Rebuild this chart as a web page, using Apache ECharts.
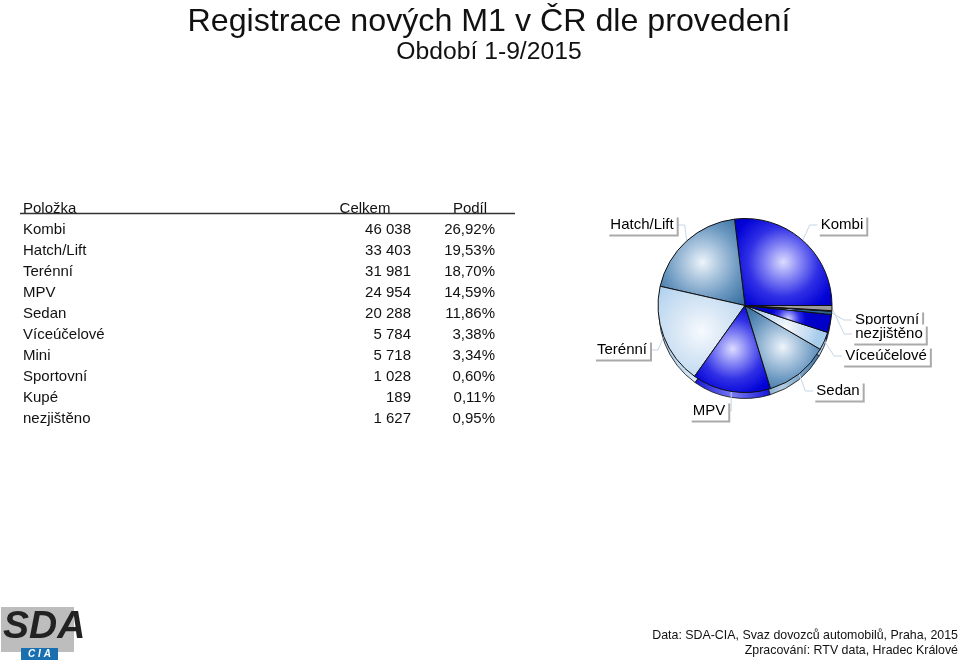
<!DOCTYPE html>
<html><head><meta charset="utf-8">
<style>html,body{margin:0;padding:0;background:#fff}#c{width:960px;height:666px}</style>
<script src="https://cdn.jsdelivr.net/npm/echarts@6/dist/echarts.min.js"></script>
</head><body><div id="c"></div>
<script>
const headers = ['Položka','Celkem','Podíl'];
const categories = ['Kombi','Hatch/Lift','Terénní','MPV','Sedan','Víceúčelové','Mini','Sportovní','Kupé','nezjištěno'];
const totals = [46038,33403,31981,24954,20288,5784,5718,1028,189,1627];
const shares = ['26,92%','19,53%','18,70%','14,59%','11,86%','3,38%','3,34%','0,60%','0,11%','0,95%'];
const titleText = 'Registrace nových M1 v ČR dle provedení';
const subtitleText = 'Období 1-9/2015';
const footerLines = ['Data: SDA-CIA, Svaz dovozců automobilů, Praha, 2015','Zpracování: RTV data, Hradec Králové'];
const hiddenLabels = ['Mini','Kupé'];

const F='"Liberation Sans",Arial,sans-serif';
const fmt=n=>String(n).replace(/\B(?=(\d{3})+$)/g,' ');
const blue={s:[[0,'#dcdcff'],[.25,'#8c8cf6'],[.55,'#3030e6'],[.85,'#0404d8'],[1,'#0000c8']],e:'#1414d8',m:'#7a7af4'};
const steel={s:[[0,'#eef4fa'],[.25,'#b4cce2'],[.6,'#6a97c0'],[1,'#2c6698']],e:'#3f78aa',m:'#b4cce2'};
const light={s:[[0,'#f6fafe'],[.35,'#dce9f6'],[.75,'#c0daf1'],[1,'#a8cdec']],e:'#a4c8e8',m:'#e0edf8'};
const gray={s:[[0,'#b8b8b8'],[1,'#9c9c9c']],e:'#888',m:'#aaa'};
const palette=[blue,steel,light,blue,steel,light,blue,steel,light,gray];
const grad=c=>({type:'radial',x:.5,y:.5,r:.72,colorStops:c.s.map(([offset,color])=>({offset,color}))});
const sideGrad=c=>({type:'linear',x:0,y:0,x2:1,y2:0,colorStops:[{offset:0,color:c.e},{offset:.5,color:c.m},{offset:1,color:c.e}]});

const labelSpots={ 'Kombi':[842,225],'Hatch/Lift':[642,225],'Terénní':[622,350],'MPV':[709,411],'Sedan':[838,391],
  'Víceúčelové':[886,356],'Sportovní':[887,320],'nezjištěno':[889,334] };

const topData=categories.map((n,i)=>({name:n,value:totals[i],itemStyle:{color:grad(palette[i])},
  label:{show:!hiddenLabels.includes(n)},labelLine:{show:!hiddenLabels.includes(n)}}));
const backData=categories.map((n,i)=>({name:n,value:totals[i],itemStyle:{color:sideGrad(palette[i])}}));

const graphic=[];
const T=(x,y,text,opts={})=>graphic.push({type:'text',x,y,silent:true,style:Object.assign({text,fill:'#111',font:'15px '+F,textVerticalAlign:'middle'},opts)});
T(23,209,headers[0]);
T(365,209,headers[1],{textAlign:'center'});
T(470,209,headers[2],{textAlign:'center'});
graphic.push({type:'line',silent:true,shape:{x1:20,y1:213.5,x2:515,y2:213.5},style:{stroke:'#333',lineWidth:1.3}});
categories.forEach((n,i)=>{
  const y=230+i*21;
  T(23,y,n);
  T(411,y,fmt(totals[i]),{textAlign:'right'});
  T(495,y,shares[i],{textAlign:'right'});
});
footerLines.forEach((l,i)=>T(958,636+i*15,l,{textAlign:'right',font:'12.4px '+F}));
graphic.push({type:'rect',silent:true,shape:{x:1,y:607,width:73,height:45},style:{fill:'#bdbdbd'}});
T(3,627,'SDA',{font:'italic bold 39px '+F,fill:'#222'});
graphic.push({type:'rect',silent:true,shape:{x:21,y:648,width:37,height:12},style:{fill:'#1a6fb0'}});
T(39.5,654,'C I A',{font:'italic bold 10px '+F,fill:'#fff',textAlign:'center'});

const chart=echarts.init(document.getElementById('c'),null,{renderer:'canvas'});
chart.setOption({
  animation:false,
  title:{text:titleText,subtext:subtitleText,left:484,top:1,textAlign:'center',itemGap:2,
    textStyle:{fontFamily:F,fontSize:32.2,fontWeight:'normal',color:'#111'},
    subtextStyle:{fontFamily:F,fontSize:24.7,color:'#111'}},
  graphic:{elements:graphic},
  series:[
    {type:'pie',silent:true,z:1,center:[745,312.5],radius:[0,86],startAngle:0,clockwise:false,data:backData,
      label:{show:false},labelLine:{show:false},itemStyle:{borderColor:'#111',borderWidth:.8}},
    {type:'pie',silent:true,z:2,center:[745,305.5],radius:[0,87],startAngle:0,clockwise:false,data:topData,
      itemStyle:{borderColor:'#111',borderWidth:1},
      label:{position:'outside',fontFamily:F,fontSize:15,color:'#000',backgroundColor:'#fff',padding:[2,3,2,3],
        shadowColor:'#aaa',shadowOffsetX:2,shadowOffsetY:2,shadowBlur:0},
      labelLine:{length:8,length2:8,lineStyle:{color:'#c4d6e6',width:1}},
      labelLayout:p=>{const n=categories[p.dataIndex],s=labelSpots[n];
        return s?{x:s[0],y:s[1],align:'center',verticalAlign:'middle'}:{};}}
  ]
});
</script></body></html>
